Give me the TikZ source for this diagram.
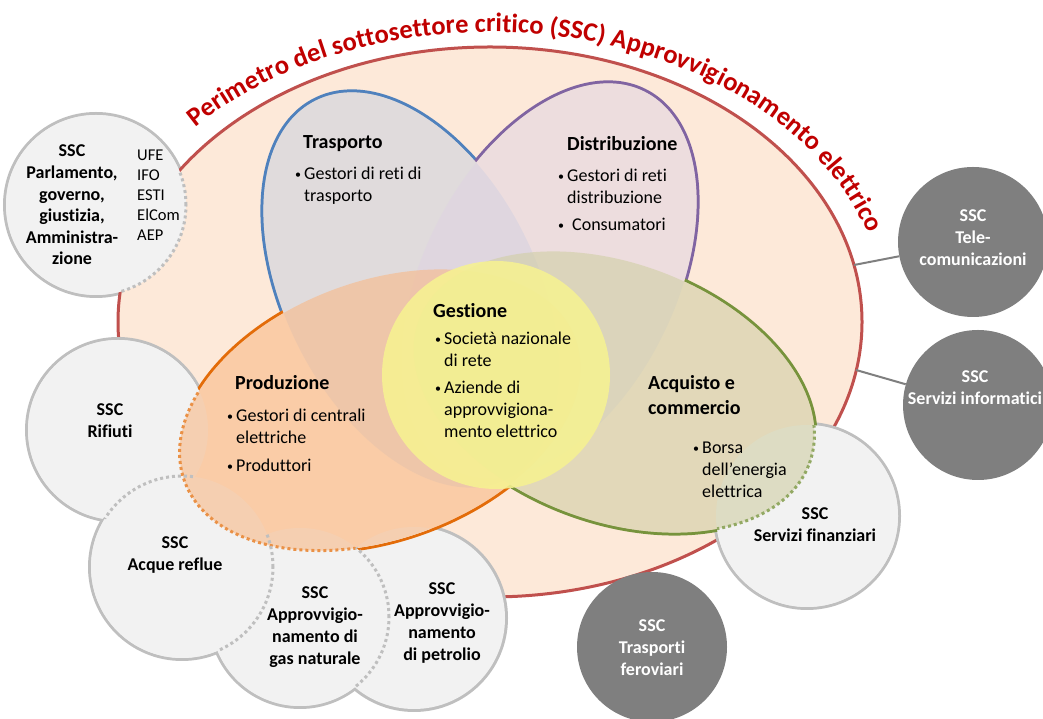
\documentclass[tikz,border=0pt]{standalone}
\usepackage{fontspec}
\setmainfont{Carlito}[Ligatures=NoCommon]
\usetikzlibrary{decorations.text}

% colours
\definecolor{peach}{RGB}{253,233,217}
\definecolor{perim}{RGB}{192,80,77}
\definecolor{titlered}{RGB}{192,0,0}
\definecolor{ringgray}{RGB}{191,191,191}
\definecolor{cellgray}{RGB}{242,242,242}
\definecolor{darkcell}{RGB}{127,127,127}
\definecolor{trasline}{RGB}{79,129,189}
\definecolor{trasfill}{RGB}{197,207,223}
\definecolor{distline}{RGB}{128,100,162}
\definecolor{distfill}{RGB}{223,211,227}
\definecolor{prodline}{RGB}{227,108,9}
\definecolor{prodfill}{RGB}{248,185,135}
\definecolor{acqline}{RGB}{119,147,60}
\definecolor{acqfill}{RGB}{208,206,164}
\definecolor{gestfill}{RGB}{246,242,145}

% fonts
\newcommand{\headfont}{\fontsize{20}{25}\selectfont\bfseries}
\newcommand{\itemfont}{\fontsize{18}{22}\selectfont}
\newcommand{\sscfont}{\fontsize{18}{22}\selectfont\bfseries}
\newcommand{\titlefont}{\fontsize{26.5}{30}\selectfont\bfseries}

% bullets and stacked lines
\newcommand{\bul}[1][9pt]{\makebox[#1][l]{\raisebox{1.5pt}{\fontsize{12}{12}\selectfont\textbullet}}}
\newcommand{\subind}{\hspace*{9pt}}
\newcommand{\txtlines}[2]{\begin{tabular}[t]{@{}#1@{}}#2\end{tabular}}

% the four petals, drawn around (0,0)
\newcommand{\petalA}{(0,0) ellipse [x radius=212pt, y radius=126pt]}
\newcommand{\petalB}{(0,0) ellipse [x radius=208pt, y radius=129pt]}

\begin{document}
\begin{tikzpicture}[x=1pt, y=1pt,
    every node/.style={inner sep=0pt},
    head/.style={anchor=base west, font=\headfont},
    items/.style={anchor=base west, font=\itemfont},
    ssc/.style={anchor=base, font=\sscfont},
    darkssc/.style={circle, fill=darkcell, minimum size=150pt},
    link/.style={darkcell, line width=2pt},
    ring/.style={ringgray, line width=6pt},
    dots/.style={line width=3pt, dash pattern=on 3pt off 3pt},
    trasp/.style={shift={(411,429)}, rotate=-63.2},
    distr/.style={shift={(549,438)}, rotate=63.2},
    prod/.style={shift={(380,309)}, rotate=20},
    acq/.style={shift={(614,327)}, rotate=-20}]

  \useasboundingbox (0,0) rectangle (1043,719);

  % centres of the light sub-sector circles
  \coordinate (parl) at (96,514);
  \coordinate (rif) at (118,289);
  \coordinate (acque) at (182,152);
  \coordinate (gas) at (300,102);
  \coordinate (petr) at (414,101);
  \coordinate (fin) at (807,203);

  % Parlamento ring (only its outer part stays solid)
  \draw[ring] (parl) circle[radius=90pt];

  % perimeter of the sub-sector
  \filldraw[fill=peach, draw=perim, line width=3pt] (490,397) ellipse [x radius=372pt, y radius=275pt];

  % dark sub-sectors and their links
  \node[darkssc] (tel) at (973,477) {};
  \node[darkssc] (inf) at (978,314) {};
  \node[darkssc] (fer) at (652,72) {};
  \coordinate (e1) at (854,454);
  \coordinate (e2) at (856,349);
  \draw[link] (e1) -- (tel);
  \draw[link] (e2) -- (inf);

  % light sub-sectors
  \foreach \n/\rad in {rif/90, acque/91, gas/89, petr/91, fin/91}
    \draw[ring] (\n) circle[radius=\rad pt];
  \foreach \n/\rad in {parl/90, rif/90, acque/91, gas/89, petr/91, fin/91}
    \fill[cellgray] (\n) circle[radius=\rad pt];

  % petal outlines
  \draw[trasline, line width=6pt, trasp] \petalA;
  \draw[distline, line width=6pt, distr] \petalA;
  \draw[prodline, line width=6pt, prod] \petalB;
  \draw[acqline, line width=6pt, acq] \petalB;

  % circles cover the outlines again
  \foreach \n/\rad in {parl/90, rif/90, acque/91, gas/89, fin/91}
    \fill[cellgray] (\n) circle[radius=\rad pt];

  % clean background inside each petal
  \foreach \s/\p in {trasp/\petalA, distr/\petalA, prod/\petalB, acq/\petalB} {
    \begin{scope}
      \clip[\s] \p;
      \fill[peach] (0,0) rectangle (1043,719);
      \foreach \n/\rad in {rif/90, acque/91, gas/89, petr/91, fin/91}
        \fill[cellgray] (\n) circle[radius=\rad pt];
    \end{scope}
  }

  % petal fills
  \fill[trasfill, fill opacity=0.5, trasp] \petalA;
  \fill[distfill, fill opacity=0.5, distr] \petalA;
  \fill[prodfill, fill opacity=0.6, prod] \petalB;
  \fill[acqfill, fill opacity=0.6, acq] \petalB;
  \fill[gestfill, fill opacity=0.88] (496,344) circle[radius=114pt];

  % dotted borders where circles overlap
  \begin{scope}
    \clip (rif) circle[radius=90pt] (acque) circle[radius=91pt] (gas) circle[radius=89pt];
    \draw[dots, prodline!75, prod] \petalB;
  \end{scope}
  \begin{scope}
    \clip (fin) circle[radius=91pt];
    \draw[dots, acqline!80, acq] \petalB;
  \end{scope}
  \begin{scope}
    \clip (rif) circle[radius=90pt] (gas) circle[radius=89pt];
    \draw[dots, ringgray] (acque) circle[radius=91pt];
  \end{scope}
  \begin{scope}
    \clip (petr) circle[radius=91pt];
    \draw[dots, ringgray] (gas) circle[radius=89pt];
  \end{scope}
  \begin{scope}
    \clip (490,397) ellipse [x radius=372pt, y radius=275pt];
    \draw[dots, ringgray] (parl) circle[radius=90pt];
  \end{scope}

  % title along the perimeter
  \path[decorate, decoration={text along path, text align=center, text color=titlered,
      text={|\titlefont|Perimetro del sottosettore critico (SSC) Approvvigionamento elettrico}}]
    (490,397) ++(142:397pt and 290pt) arc[start angle=142, end angle=13, x radius=397pt, y radius=290pt];

  % petal texts
  \node[head] (trasH) at (303,570) {Trasporto};
  \node[items] (trasT) at (295,539) {\txtlines{l}{\bul Gestori di reti di\\ \subind trasporto}};

  \node[head] (distH) at (567,568) {Distribuzione};
  \node[items] (distT) at (558,537) {\txtlines{l}{\bul Gestori di reti\\ \subind distribuzione\\[5pt] \bul[14pt]Consumatori}};

  \node[head] (gestH) at (433,401) {Gestione};
  \node[items] (gestT) at (435,374) {\txtlines{l}{\bul Società nazionale\\ \subind di rete\\[5pt] \bul Aziende di\\ \subind approvvigiona-\\ \subind mento elettrico}};

  \node[head] (prodH) at (235,329) {Produzione};
  \node[items] (prodT) at (227,297) {\txtlines{l}{\bul Gestori di centrali\\ \subind elettriche\\[6pt] \bul Produttori}};

  \node[head] (acqH) at (648,329) {\txtlines{l}{Acquisto e\\ commercio}};
  \node[items] (acqT) at (693,265) {\txtlines{l}{\bul Borsa\\ \subind dell’energia\\ \subind elettrica}};

  % sub-sector labels
  \node[anchor=base, font=\fontsize{18}{21.6}\selectfont\bfseries] (parlT) at (72,562)
    {\txtlines{c}{SSC\\ Parlamento,\\ governo,\\ giustizia,\\ Amministra-\\ zione}};
  \node[anchor=base west, font=\fontsize{16.5}{20}\selectfont] (parlL) at (137,558)
    {\txtlines{l}{UFE\\ IFO\\ ESTI\\ ElCom\\ AEP}};
  \node[ssc] (rifT) at (110,303) {\txtlines{c}{SSC\\ Rifiuti}};
  \node[ssc] (acqueT) at (175,170) {\txtlines{c}{SSC\\ Acque reflue}};
  \node[ssc] (gasT) at (315,120) {\txtlines{c}{SSC\\ Approvvigio-\\ namento di\\ gas naturale}};
  \node[ssc] (petrT) at (442,124) {\txtlines{c}{SSC\\ Approvvigio-\\ namento\\ di petrolio}};
  \node[ssc] (finT) at (815,199) {\txtlines{c}{SSC\\ Servizi finanziari}};
  \node[ssc, text=white] (ferT) at (652,87) {\txtlines{c}{SSC\\ Trasporti\\ feroviari}};
  \node[ssc, text=white] (telT) at (973,497) {\txtlines{c}{SSC\\ Tele-\\ comunicazioni}};
  \node[ssc, text=white] (infT) at (975,336) {\txtlines{c}{SSC\\ Servizi informatici}};

\end{tikzpicture}
\end{document}
